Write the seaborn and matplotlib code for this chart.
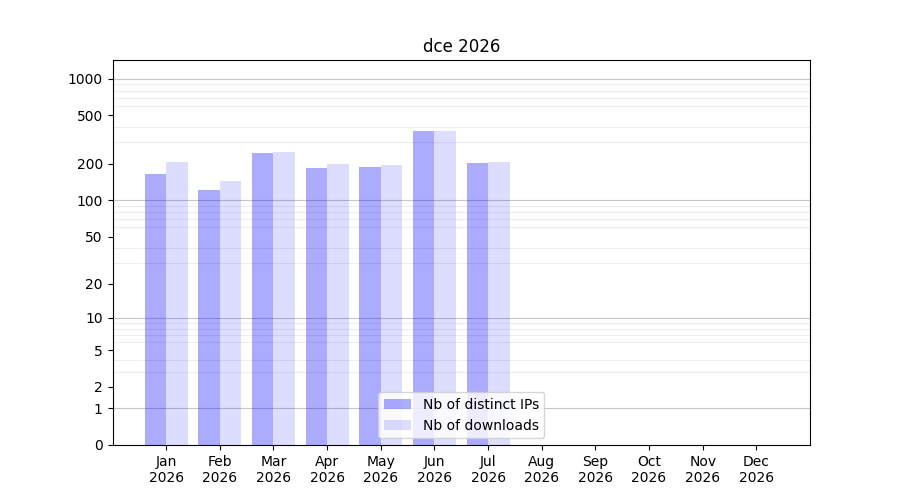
import numpy as np
import pandas as pd
import matplotlib
matplotlib.use('Agg')
import matplotlib.pyplot as plt
import seaborn as sns

# data
months = ['Jan', 'Feb', 'Mar', 'Apr', 'May', 'Jun', 'Jul', 'Aug', 'Sep', 'Oct', 'Nov', 'Dec']
year = 2026
distinct_ips = [166, 121, 245, 185, 188, 372, 203, np.nan, np.nan, np.nan, np.nan, np.nan]
downloads = [208, 144, 250, 199, 195, 373, 208, np.nan, np.nan, np.nan, np.nan, np.nan]
ytick_vals = [0, 1, 2, 5, 10, 20, 50, 100, 200, 500, 1000]

labels = ['{}\n{}'.format(m, year) for m in months]
dataF = pd.DataFrame({
    'month': labels * 2,
    'value': distinct_ips + downloads,
    'kind': ['Nb of distinct IPs'] * 12 + ['Nb of downloads'] * 12,
})

fig, ax = plt.subplots(figsize=(9, 5), dpi=100)

sns.barplot(data=dataF, x='month', y='value', hue='kind', order=labels,
            palette=['blue', 'blue'], saturation=1, width=0.8, ax=ax, errorbar=None)

# transparency per series
alphas = [0.33, 0.135]
for cont, a in zip(ax.containers, alphas):
    for p in cont:
        p.set_alpha(a)

# log(1+x) scale
def fwd(x):
    return np.log10(1 + np.clip(x, -0.999, None))
def inv(y):
    return 10 ** y - 1
ax.set_yscale('function', functions=(fwd, inv))
ax.set_ylim(0, 1425)
ax.set_xlim(-1, 12)

ax.set_yticks(ytick_vals)
ax.set_yticklabels([str(v) for v in ytick_vals])
minor = [m * d for d in (1, 10, 100) for m in range(2, 10)]
ax.set_yticks(minor, minor=True)
ax.tick_params(axis='y', which='minor', length=0)
ax.grid(which='minor', axis='y', color='0.93', linewidth=0.8)
for d in (1, 10, 100, 1000):
    ax.axhline(d, color='0.78', linewidth=0.8, zorder=0.5)
ax.set_axisbelow(True)

ax.set_xlabel('')
ax.set_ylabel('')
ax.set_title('dce {}'.format(year))
leg = ax.legend(loc='lower center', title=None)
for h, a in zip(leg.legend_handles, alphas):
    h.set_alpha(a)

plt.savefig('out.png', dpi=100)
